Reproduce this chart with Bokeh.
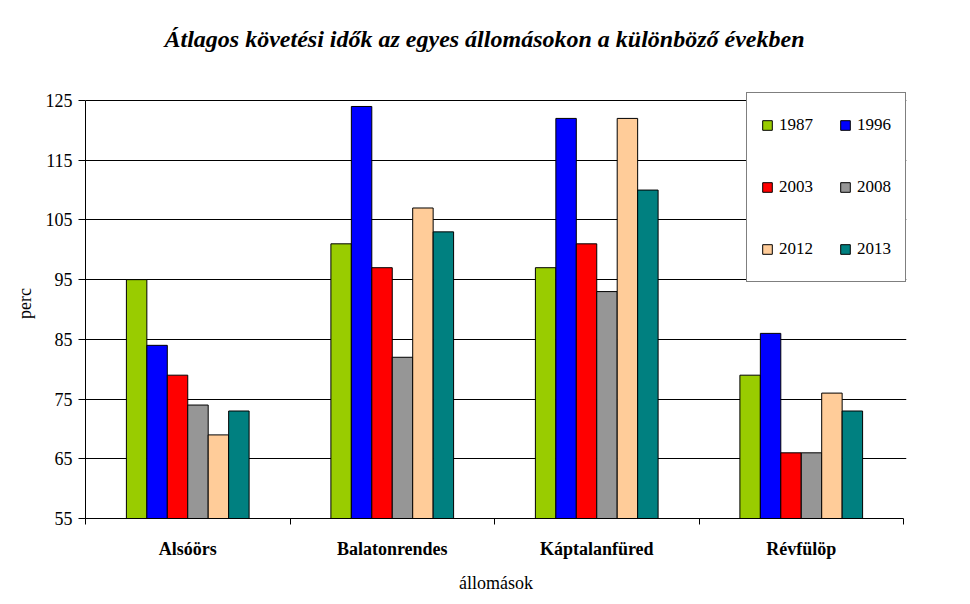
from bokeh.plotting import figure
from bokeh.models import FixedTicker, Legend, LegendItem, Title
from bokeh.embed import file_html
from bokeh.resources import INLINE

stations = ["Alsóörs", "Balatonrendes", "Káptalanfüred", "Révfülöp"]
years = ["1987", "1996", "2003", "2008", "2012", "2013"]
v1987 = [95, 101, 97, 79]
v1996 = [84, 124, 122, 86]
v2003 = [79, 97, 101, 66]
v2008 = [74, 82, 93, 66]
v2012 = [69, 107, 122, 76]
v2013 = [73, 103, 110, 73]
series = [v1987, v1996, v2003, v2008, v2012, v2013]
y_ticks = [55, 65, 75, 85, 95, 105, 115, 125]
colors = ["#99CC00", "#0000FF", "#FF0000", "#969696", "#FFCC99", "#008080"]
title_text = "Átlagos követési idők az egyes állomásokon a különböző években"

FONT = "Liberation Serif"

# frame is slightly larger than the axes so that the legend box (which overhangs
# the plot area at the top and right) is not clipped
px_per_y = 418 / 70.0
px_per_x = 818 / 4.0
p = figure(frame_width=821, frame_height=430,
           x_range=(0, 4 + 3 / px_per_x), y_range=(55, 125 + 12 / px_per_y),
           output_backend="svg", toolbar_location=None,
           min_border_left=85, min_border_top=88, min_border_right=55, min_border_bottom=70)

group = 0.6
bw = group / len(years)
items = []
for j, (yr, vals, c) in enumerate(zip(years, series, colors)):
    xs = [i + (1 - group) / 2 + (j + 0.5) * bw for i in range(len(stations))]
    r = p.vbar(x=xs, top=vals, bottom=55, width=bw, fill_color=c,
               line_color="black", line_width=1)
    items.append(LegendItem(label=yr, renderers=[r]))

p.title.text = ""
p.add_layout(Title(text=" ", text_font_size="31px", standoff=0), "above")
p.add_layout(Title(text=title_text, text_font=FONT, text_font_style="bold italic",
                   text_font_size="24px", text_color="black", align="left",
                   offset=79, standoff=0), "above")

p.outline_line_color = None
p.xgrid.visible = False
p.ygrid.ticker = FixedTicker(ticks=y_ticks)
p.ygrid.grid_line_color = "black"
p.ygrid.grid_line_width = 1

xa = p.xaxis[0]
xa.bounds = (0, 4)
xa.ticker = FixedTicker(ticks=[i + 0.5 for i in range(len(stations))],
                        minor_ticks=list(range(len(stations) + 1)))
xa.major_label_overrides = {i + 0.5: s for i, s in enumerate(stations)}
xa.major_tick_in = 0
xa.major_tick_out = 0
xa.minor_tick_in = 0
xa.minor_tick_out = 6
xa.minor_tick_line_color = "black"
xa.axis_line_color = "black"
xa.major_label_text_font = FONT
xa.major_label_text_font_style = "bold"
xa.major_label_text_font_size = "18px"
xa.major_label_text_color = "black"
xa.major_label_standoff = 14
xa.axis_label = "állomások"
xa.axis_label_text_font = FONT
xa.axis_label_text_font_style = "normal"
xa.axis_label_text_font_size = "18px"
xa.axis_label_text_color = "black"
xa.axis_label_standoff = 11

ya = p.yaxis[0]
ya.bounds = (55, 125)
ya.ticker = FixedTicker(ticks=y_ticks)
ya.major_tick_in = 0
ya.major_tick_out = 7
ya.minor_tick_line_color = None
ya.axis_line_color = "black"
ya.major_tick_line_color = "black"
ya.major_label_text_font = FONT
ya.major_label_text_font_size = "18px"
ya.major_label_text_color = "black"
ya.major_label_standoff = 6
ya.axis_label = "perc"
ya.axis_label_text_font = FONT
ya.axis_label_text_font_style = "normal"
ya.axis_label_text_font_size = "18px"
ya.axis_label_text_color = "black"
ya.axis_label_standoff = 8

legend = Legend(items=items, location=(661, 236), orientation="horizontal", ncols=2,
                glyph_width=12, glyph_height=12, label_standoff=6,
                label_text_font=FONT, label_text_font_size="17px",
                label_text_color="black",
                spacing=26, padding=14, label_height=36,
                border_line_color="black", border_line_width=1,
                background_fill_alpha=1.0)
p.add_layout(legend, "center")

open("out.html", "w").write(file_html(p, INLINE))
